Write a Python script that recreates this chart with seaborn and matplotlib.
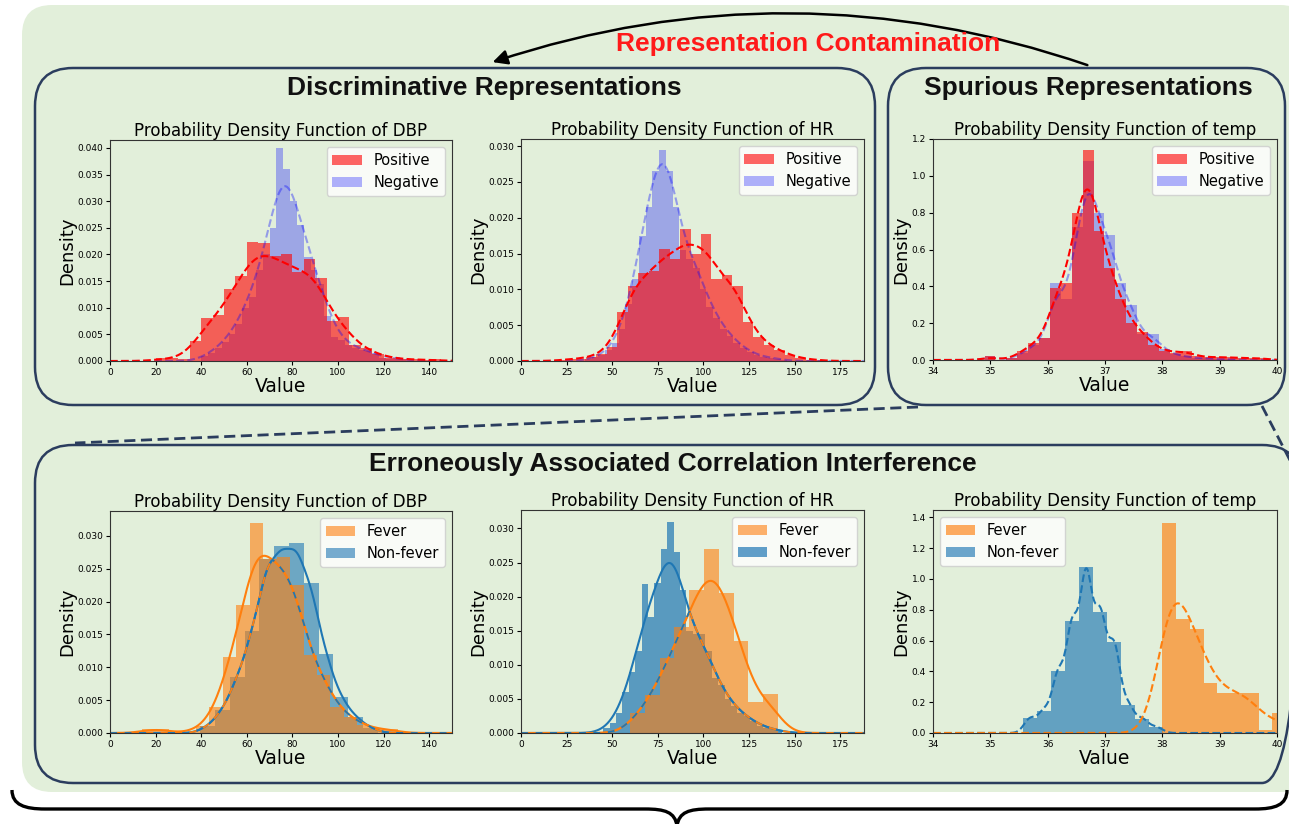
import numpy as np
import pandas as pd
import matplotlib
matplotlib.use("Agg")
import matplotlib.pyplot as plt
import seaborn as sns
from matplotlib.patches import FancyBboxPatch, FancyArrowPatch, PathPatch
from matplotlib.path import Path
from matplotlib.ticker import FormatStrFormatter

# ---------------- data: histogram bin starts, widths and densities ----------------
# Top row (Positive / Negative)
dbp_pos_start, dbp_pos_width = 20.0, 5.0
dbp_pos = [0.5, 0.5, 0.3, 3.8, 8.0, 8.6, 13.5, 16.0, 22.3, 22.1, 19.8, 20.0, 16.8, 19.2,
           15.5, 7.5, 8.2, 3.0, 2.4, 1.3, 0.6, 0.4, 0.3, 0.2, 0.3]            # x 1e-3
dbp_neg_start, dbp_neg_width = 40.0, 3.0
dbp_neg = [1.0, 1.5, 2.5, 3.5, 5.0, 7.0, 10.0, 12.0, 17.0, 20.0, 25.0, 40.0, 36.0, 30.0,
           25.5, 19.5, 17.0, 14.5, 8.5, 4.5, 4.0, 3.0, 2.5, 2.0, 1.8, 1.5, 0.5, 0.4, 0.8, 0.3]

hr_pos_start, hr_pos_width = 18.3, 5.74
hr_pos = [0.1, 0.3, 0.3, 0.6, 1.0, 2.0, 6.8, 10.5, 12.3, 12.5, 15.7, 14.2, 18.5, 15.0,
          17.8, 11.5, 12.0, 10.5, 5.5, 3.3, 2.2, 1.5, 0.8, 0.4, 0.2, 0.1]
hr_neg_start, hr_neg_width = 35.0, 3.7
hr_neg = [0.3, 0.5, 0.8, 1.5, 2.5, 4.5, 8.0, 11.5, 17.5, 21.5, 26.5, 29.5, 26.5, 21.5,
          15.5, 14.2, 13.0, 10.0, 7.5, 6.0, 4.5, 3.5, 2.5, 1.8, 1.2, 0.8, 0.6, 0.4, 0.3, 0.2]

temp_start, temp_width = 34.9, 0.19
temp_pos = [0.02, 0.0, 0.01, 0.05, 0.09, 0.12, 0.39, 0.42, 0.80, 1.14, 0.70, 0.50, 0.33,
            0.20, 0.15, 0.08, 0.05, 0.04, 0.05, 0.02, 0.015, 0.015, 0.015, 0.01, 0.01, 0.01]
temp_neg = [0.02, 0.0, 0.01, 0.04, 0.08, 0.12, 0.42, 0.33, 0.72, 1.08, 0.80, 0.68, 0.42,
            0.30, 0.14, 0.14, 0.06, 0.03, 0.02, 0.01, 0.01, 0.005, 0.005, 0.0, 0.0, 0.0]

# Bottom row (Fever / Non-fever)
dbp_fev_start, dbp_fev_width = 14.1, 5.9
dbp_fev = [0.6, 0.6, 0.0, 0.2, 1.0, 4.0, 11.5, 19.5, 32.0, 26.5, 26.8, 22.5, 11.8, 8.8,
           4.0, 2.5, 1.2, 0.6, 0.6]
dbp_non_start, dbp_non_width = 39.5, 6.5
dbp_non = [1.0, 3.5, 8.5, 15.5, 26.5, 28.5, 29.0, 22.9, 12.0, 5.5, 2.5, 0.8]

hr_fev_start, hr_fev_width = 59.7, 8.12
hr_fev = [3.0, 5.5, 11.0, 15.5, 21.0, 27.0, 20.5, 13.5, 4.5, 5.7]
hr_non_start, hr_non_width = 45.1, 3.5
hr_non = [0.8, 1.5, 3.0, 6.0, 9.0, 12.0, 21.8, 17.0, 22.0, 27.0, 31.0, 26.5, 21.0, 15.0,
          14.5, 14.5, 12.0, 8.0, 7.0, 5.0, 4.0, 3.0, 2.5, 1.8, 1.0, 0.8, 0.6, 0.5]

temp_fev_start, temp_fev_width = 38.0, 0.24
temp_fev = [1.365, 0.737, 0.674, 0.325, 0.26, 0.26, 0.26, 0.02, 0.13]
temp_non_start, temp_non_width = 35.57, 0.245
temp_non = [0.10, 0.145, 0.40, 0.726, 1.08, 0.787, 0.59, 0.18, 0.093, 0.04]

# text
box_titles = ["Discriminative Representations", "Spurious Representations",
              "Erroneously Associated Correlation Interference"]
arrow_label = "Representation Contamination"
features = ["DBP", "HR", "temp"]

# ---------------- figure ----------------
W, H = 1289, 824
fig = plt.figure(figsize=(W / 100, H / 100), dpi=100)
fig.patch.set_facecolor("white")

GREEN = "#e2efda"
NAVY = "#2b3d5e"
TITLE_FONT = dict(family=["Liberation Sans Narrow", "Liberation Sans", "DejaVu Sans"],
                  weight="bold")

bg = fig.add_axes([0, 0, 1, 1])
bg.set_xlim(0, W)
bg.set_ylim(H, 0)
bg.axis("off")


def rbox(x0, y0, x1, y1, r, **kw):
    p = FancyBboxPatch((x0, y0), x1 - x0, y1 - y0,
                       boxstyle=f"round,pad=0,rounding_size={r}", **kw)
    bg.add_patch(p)


rbox(22, 5, 1310, 792, 30, facecolor=GREEN, edgecolor="none")
rbox(35, 68, 875, 405, 38, facecolor="none", edgecolor=NAVY, lw=1.8)
rbox(888, 68, 1285, 405, 38, facecolor="none", edgecolor=NAVY, lw=1.8)
rbox(35, 445, 1300, 783, 38, facecolor="none", edgecolor=NAVY, lw=1.8)

bg.text(484, 88, box_titles[0], ha="center", va="center", fontsize=19, color="#111111", **TITLE_FONT)
bg.text(1088, 88, box_titles[1], ha="center", va="center", fontsize=19, color="#111111", **TITLE_FONT)
bg.text(673, 464, box_titles[2], ha="center", va="center", fontsize=19, color="#111111", **TITLE_FONT)
bg.text(808, 44, arrow_label, ha="center", va="center", fontsize=19, color="#ff1a1a", **TITLE_FONT)

arr = FancyArrowPatch(posA=(1090, 66), posB=(490, 63), arrowstyle="-|>", mutation_scale=22,
                      connectionstyle="arc3,rad=0.17", color="black", lw=1.8)
bg.add_patch(arr)

bg.plot([918, 75], [407, 443], color=NAVY, lw=2, ls=(0, (4, 2)))
bg.plot([1262, 1295], [406, 470], color=NAVY, lw=2, ls=(0, (4, 2)))

verts = [(12, 790), (12, 805), (25, 809), (45, 809), (645, 809),
         (665, 809), (675, 812), (677, 826),
         (679, 812), (689, 809), (709, 809), (1255, 809),
         (1275, 809), (1287, 805), (1287, 790)]
codes = [Path.MOVETO, Path.CURVE4, Path.CURVE4, Path.CURVE4, Path.LINETO,
         Path.CURVE4, Path.CURVE4, Path.CURVE4,
         Path.CURVE4, Path.CURVE4, Path.CURVE4, Path.LINETO,
         Path.CURVE4, Path.CURVE4, Path.CURVE4]
bg.add_patch(PathPatch(Path(verts, codes), facecolor="none", edgecolor="black", lw=2.4))


def px_axes(x0, y0, x1, y1):
    ax = fig.add_axes([x0 / W, 1 - y1 / H, (x1 - x0) / W, (y1 - y0) / H])
    ax.patch.set_facecolor("none")
    return ax


def hist_kde(ax, start, width, heights, scale, color, alpha, label, bw, xlim,
             kls="--", klw=1.5, kalpha=1.0):
    h = np.asarray(heights, float) * scale
    e = start + width * np.arange(len(h) + 1)
    c = (e[:-1] + e[1:]) / 2
    df = pd.DataFrame({"value": c, "density": h})
    sns.histplot(data=df, x="value", weights="density", bins=list(e), stat="count",
                 color=color, alpha=alpha, linewidth=0, label=label, ax=ax)
    sns.kdeplot(data=df, x="value", weights="density", bw_adjust=bw, cut=200, clip=xlim,
                gridsize=500, color=color, ls=kls, lw=klw, alpha=kalpha, ax=ax)
    return ax.lines[-1]


def finish(ax, xlim, ylim, xticks, yticks, yfmt, title, order, loc):
    ax.set_xlim(*xlim)
    ax.set_ylim(*ylim)
    ax.set_xticks(xticks)
    ax.set_yticks(yticks)
    ax.yaxis.set_major_formatter(FormatStrFormatter(yfmt))
    ax.tick_params(labelsize=6.5, length=3, width=0.8, pad=2)
    for s in ax.spines.values():
        s.set_color("#333333")
    ax.set_xlabel("Value", fontsize=13.5, labelpad=0)
    ax.set_ylabel("Density", fontsize=13, labelpad=1)
    ax.set_title(title, fontsize=12, pad=3)
    hs, ls = ax.get_legend_handles_labels()
    d = dict(zip(ls, hs))
    ax.legend([d[k] for k in order], order, loc=loc, fontsize=10.5)


# ---- top row ----
ax1 = px_axes(110, 140, 452, 361)
hist_kde(ax1, dbp_neg_start, dbp_neg_width, dbp_neg, 1e-3, "blue", 0.3, "Negative", 0.6, (0, 150), kalpha=0.35)
hist_kde(ax1, dbp_pos_start, dbp_pos_width, dbp_pos, 1e-3, "red", 0.6, "Positive", 0.5, (0, 150))
finish(ax1, (0, 150), (0, 0.0415), np.arange(0, 141, 20), np.arange(0, 0.0401, 0.005), "%.3f",
       f"Probability Density Function of {features[0]}", ["Positive", "Negative"], "upper right")

ax2 = px_axes(521, 139, 864, 361)
hist_kde(ax2, hr_neg_start, hr_neg_width, hr_neg, 1e-3, "blue", 0.3, "Negative", 0.5, (0, 188), kalpha=0.35)
hist_kde(ax2, hr_pos_start, hr_pos_width, hr_pos, 1e-3, "red", 0.6, "Positive", 0.45, (0, 188))
finish(ax2, (0, 188), (0, 0.031), np.arange(0, 176, 25), np.arange(0, 0.0301, 0.005), "%.3f",
       f"Probability Density Function of {features[1]}", ["Positive", "Negative"], "upper right")

ax3 = px_axes(933, 139, 1277, 360)
hist_kde(ax3, temp_start, temp_width, temp_neg, 1.0, "blue", 0.3, "Negative", 0.38, (34, 40), kalpha=0.35)
hist_kde(ax3, temp_start, temp_width, temp_pos, 1.0, "red", 0.6, "Positive", 0.38, (34, 40))
finish(ax3, (34, 40), (0, 1.2), np.arange(34, 41, 1), np.arange(0, 1.21, 0.2), "%.1f",
       f"Probability Density Function of {features[2]}", ["Positive", "Negative"], "upper right")

# ---- bottom row ----
ORANGE, BLUE = "tab:orange", "tab:blue"


def overlap(ax, l1, l2):
    x = l1.get_xdata()
    y = np.minimum(l1.get_ydata(), l2.get_ydata())
    ax.plot(x, y, color=BLUE, ls=(0, (4, 4)), lw=1.3)
    ax.plot(x, y, color=ORANGE, ls=(4, (4, 4)), lw=1.3)


ax4 = px_axes(110, 511, 452, 733)
lb = hist_kde(ax4, dbp_non_start, dbp_non_width, dbp_non, 1e-3, BLUE, 0.6, "Non-fever", 0.4, (0, 150), kls="-")
lo = hist_kde(ax4, dbp_fev_start, dbp_fev_width, dbp_fev, 1e-3, ORANGE, 0.6, "Fever", 0.5, (0, 150), kls="-")
overlap(ax4, lb, lo)
finish(ax4, (0, 150), (0, 0.0338), np.arange(0, 141, 20), np.arange(0, 0.0301, 0.005), "%.3f",
       f"Probability Density Function of {features[0]}", ["Fever", "Non-fever"], "upper right")

ax5 = px_axes(521, 510, 864, 733)
lb = hist_kde(ax5, hr_non_start, hr_non_width, hr_non, 1e-3, BLUE, 0.7, "Non-fever", 0.6, (0, 188), kls="-")
lo = hist_kde(ax5, hr_fev_start, hr_fev_width, hr_fev, 1e-3, ORANGE, 0.6, "Fever", 0.6, (0, 188), kls="-")
overlap(ax5, lb, lo)
finish(ax5, (0, 188), (0, 0.0327), np.arange(0, 176, 25), np.arange(0, 0.0301, 0.005), "%.3f",
       f"Probability Density Function of {features[1]}", ["Fever", "Non-fever"], "upper right")

ax6 = px_axes(933, 510, 1277, 733)
hist_kde(ax6, temp_non_start, temp_non_width, temp_non, 1.0, BLUE, 0.65, "Non-fever", 0.33, (34, 40))
hist_kde(ax6, temp_fev_start, temp_fev_width, temp_fev, 1.0, ORANGE, 0.65, "Fever", 0.6, (34, 40))
finish(ax6, (34, 40), (0, 1.447), np.arange(34, 41, 1), np.arange(0, 1.41, 0.2), "%.1f",
       f"Probability Density Function of {features[2]}", ["Fever", "Non-fever"], "upper left")

fig.savefig("out.png", dpi=100, facecolor="white")
